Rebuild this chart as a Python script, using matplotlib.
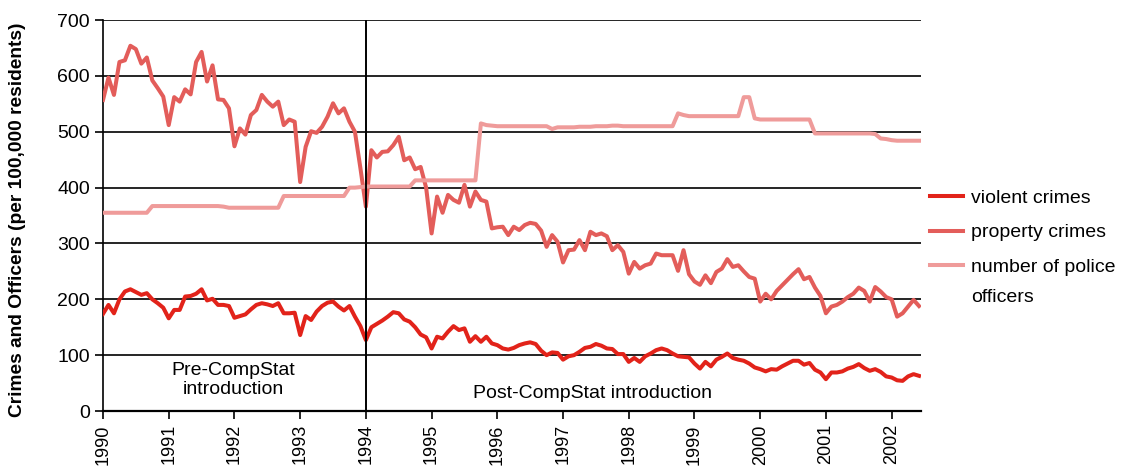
import numpy as np
import matplotlib
matplotlib.use("Agg")
import matplotlib.pyplot as plt

# monthly series, Jan 1990 - Jun 2002 (per 100,000 residents)
violent = [
    174, 190, 175, 200, 214, 218, 213, 208, 211, 200, 193, 185,   # 1990
    166, 181, 181, 205, 206, 210, 218, 198, 201, 190, 190, 188,   # 1991
    167, 170, 173, 182, 190, 193, 191, 188, 193, 175, 175, 176,   # 1992
    136, 170, 163, 178, 188, 194, 196, 187, 180, 188, 169, 152,   # 1993
    127, 150, 156, 162, 169, 177, 175, 164, 160, 150, 137, 132,   # 1994
    112, 133, 130, 142, 152, 145, 148, 124, 134, 124, 133, 121,   # 1995
    118, 112, 110, 113, 118, 121, 123, 120, 108, 100, 105, 104,   # 1996
    92, 98, 100, 106, 113, 115, 120, 117, 112, 111, 102, 102,     # 1997
    88, 95, 88, 98, 103, 109, 112, 109, 103, 98, 97, 96,          # 1998
    85, 76, 88, 80, 92, 97, 103, 95, 92, 90, 85, 78,              # 1999
    75, 71, 75, 74, 80, 85, 90, 90, 83, 86, 74, 69,               # 2000
    57, 69, 69, 71, 76, 79, 84, 77, 72, 75, 70, 62,               # 2001
    60, 55, 54, 62, 66, 63,                                       # 2002
]
property_ = [
    557, 597, 566, 625, 628, 654, 648, 622, 633, 592, 578, 563,   # 1990
    512, 562, 554, 576, 567, 625, 643, 590, 619, 558, 557, 542,   # 1991
    474, 506, 495, 530, 539, 566, 554, 545, 554, 512, 522, 518,   # 1992
    410, 473, 501, 498, 509, 527, 551, 533, 542, 518, 500, 435,   # 1993
    366, 467, 454, 464, 465, 476, 491, 449, 454, 433, 437, 400,   # 1994
    318, 384, 355, 387, 378, 373, 405, 366, 393, 378, 375, 327,   # 1995
    329, 330, 315, 330, 324, 333, 337, 335, 323, 294, 315, 303,   # 1996
    266, 288, 289, 306, 288, 321, 315, 318, 313, 288, 297, 285,   # 1997
    246, 267, 255, 261, 264, 282, 279, 279, 279, 251, 288, 245,   # 1998
    232, 226, 243, 229, 249, 255, 272, 258, 261, 250, 240, 237,   # 1999
    196, 210, 200, 215, 225, 235, 245, 254, 236, 240, 221, 206,   # 2000
    175, 187, 190, 196, 204, 210, 221, 215, 196, 222, 214, 204,   # 2001
    200, 169, 175, 187, 199, 188,                                 # 2002
]
officers = [
    355, 355, 355, 355, 355, 355, 355, 355, 355, 367, 367, 367,   # 1990
    367, 367, 367, 367, 367, 367, 367, 367, 367, 367, 366, 364,   # 1991
    364, 364, 364, 364, 364, 364, 364, 364, 364, 385, 385, 385,   # 1992
    385, 385, 385, 385, 385, 385, 385, 385, 385, 400, 400, 401,   # 1993
    402, 402, 402, 402, 402, 402, 402, 402, 402, 413, 413, 413,   # 1994
    413, 413, 413, 413, 413, 413, 413, 413, 413, 515, 512, 511,   # 1995
    510, 510, 510, 510, 510, 510, 510, 510, 510, 510, 505, 508,   # 1996
    508, 508, 508, 509, 509, 509, 510, 510, 510, 511, 511, 510,   # 1997
    510, 510, 510, 510, 510, 510, 510, 510, 510, 533, 530, 528,   # 1998
    528, 528, 528, 528, 528, 528, 528, 528, 528, 562, 562, 524,   # 1999
    522, 522, 522, 522, 522, 522, 522, 522, 522, 522, 497, 497,   # 2000
    497, 497, 497, 497, 497, 497, 497, 497, 497, 496, 488, 487,   # 2001
    485, 484, 484, 484, 484, 484,                                 # 2002
]
years = list(range(1990, 2003))
series_labels = ["violent crimes", "property crimes", "number of police"]
colors = ["#e2231a", "#e35d5a", "#ef9b9a"]

font = "Liberation Sans"

t = 1990 + np.arange(len(violent)) / 12.0

fig = plt.figure(figsize=(11.27, 4.75), dpi=100)
ax = fig.add_axes([0.0914, 0.1347, 0.726, 0.823])

for vals, lab, c in zip([violent, property_, officers], series_labels, colors):
    ax.plot(t, vals, color=c, lw=2.9, label=lab, solid_joinstyle="round", zorder=3)

ax.set_xlim(1990, 2002.45)
ax.set_ylim(0, 700)
ax.set_yticks(range(0, 701, 100))
ax.set_xticks(years)
ax.set_xticklabels([str(y) for y in years], rotation=90, family=font, fontsize=13)
for lbl in ax.get_yticklabels():
    lbl.set_family(font)
    lbl.set_fontsize(14)

ax.grid(axis="y", color="black", lw=1.2)
ax.set_axisbelow(True)
for s in ["top", "right"]:
    ax.spines[s].set_visible(False)
ax.spines["left"].set_linewidth(1.2)
ax.spines["bottom"].set_linewidth(1.6)
ax.tick_params(axis="both", direction="out", length=6, width=1.2, colors="black")

# CompStat introduction marker
ax.axvline(1994, color="black", lw=1.4, zorder=4)
ax.text(1991.98, 55, "Pre-CompStat\nintroduction", ha="center", va="center",
        family=font, fontsize=14, linespacing=1.15)
ax.text(1997.45, 31, "Post-CompStat introduction", ha="center", va="center",
        family=font, fontsize=14)

ax.set_ylabel("Crimes and Officers (per 100,000 residents)", family=font,
              fontweight="bold", fontsize=13.8)
ax.yaxis.set_label_coords(-0.094, 0.49)

leg = ax.legend(loc="upper left", bbox_to_anchor=(930 / 1127, 1 - 189 / 475),
                bbox_transform=fig.transFigure, frameon=False, borderpad=0,
                borderaxespad=0, prop={"family": font, "size": 14},
                handlelength=1.7, handletextpad=0.4, labelspacing=0.88)

# second line of the last legend entry
fig.canvas.draw()
last = leg.get_texts()[-1]
bb = last.get_window_extent()
row_step = bb.y0 - leg.get_texts()[-2].get_window_extent().y0
fig.text(bb.x0, bb.y0 + 0.86 * row_step, "officers", transform=None,
         family=font, fontsize=14, ha="left", va="bottom")

fig.savefig("out.png", dpi=100)
